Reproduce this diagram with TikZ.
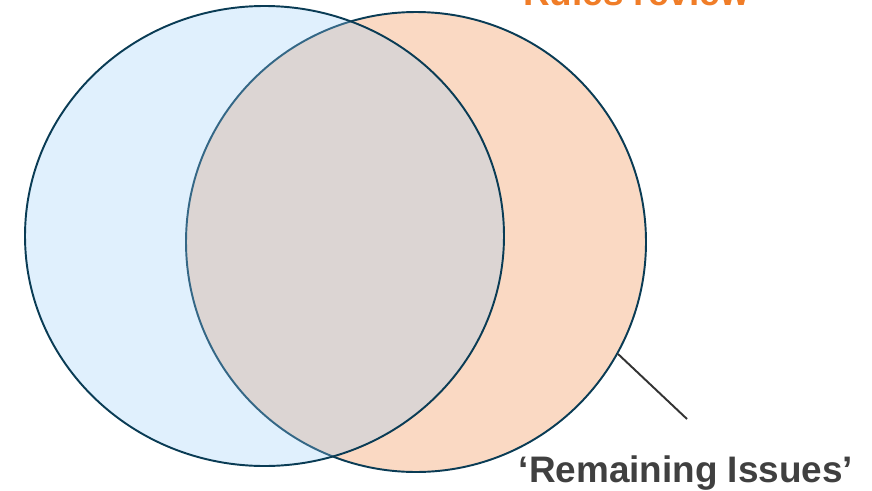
\documentclass[tikz,border=0pt]{standalone}
\usepackage{fontspec}
\setmainfont{Liberation Sans}
\usetikzlibrary{shapes, positioning}
\definecolor{rim}{RGB}{10,60,85}
\definecolor{peach}{RGB}{250,217,195}
\definecolor{skyblue}{RGB}{152,205,248}
\definecolor{tangerine}{RGB}{240,125,40}
\definecolor{ink}{RGB}{64,64,64}

\begin{document}
\begin{tikzpicture}[set/.style={draw=rim, line width=1.1pt, inner sep=0pt},
    title/.style={font=\bfseries\fontsize{21}{24}\selectfont, anchor=base}]
    \useasboundingbox (0,0) rectangle (17.44,9.8);

    % Sets
    \node[set, circle, fill=peach, minimum size=9.2cm] (review) at (8.32,4.96) {};
    \node[set, ellipse, fill=skyblue, fill opacity=0.3, minimum width=9.58cm, minimum height=9.2cm] (found) at (5.29,5.08) {};

    % Labels
    \node[title, text=tangerine] (rules) at (12.72,9.7) {Rules review};
    \node[title, text=ink] (remaining) at (13.72,0.16) {‘Remaining Issues’};

    \coordinate (tip) at (13.74,1.42);
    \draw[ink!80!black, line width=1.1pt] (review.-29.5) -- (tip);
\end{tikzpicture}
\end{document}
